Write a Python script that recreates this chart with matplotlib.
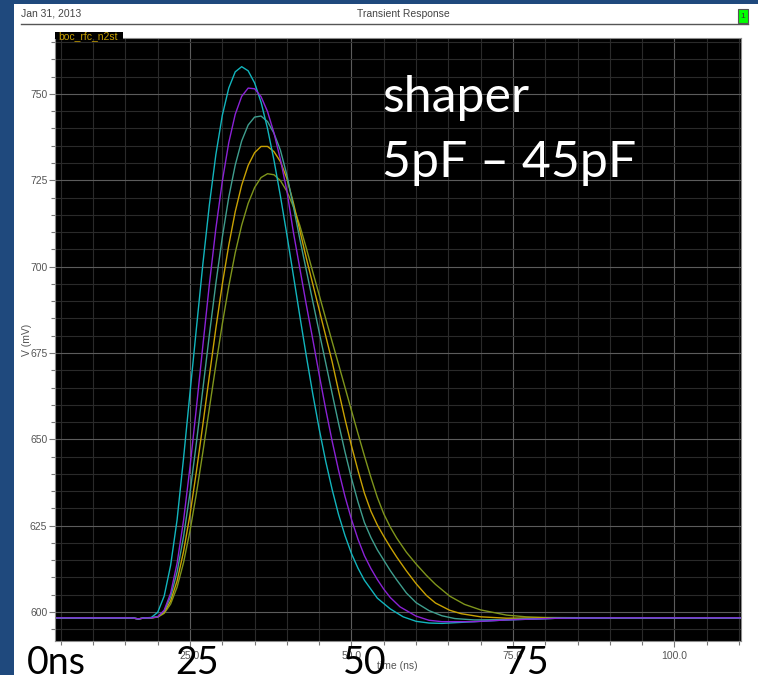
import matplotlib.pyplot as plt
from matplotlib.patches import Rectangle
from matplotlib.lines import Line2D
from matplotlib.ticker import MultipleLocator, FormatStrFormatter

plt.rcParams["font.family"] = ["Liberation Sans", "DejaVu Sans"]

# Shaper outputs: time in ns, voltage in mV
t_cyan = [3, 16, 17, 18, 19, 20, 21, 22, 23, 24, 25, 26, 27, 28, 29, 30, 31, 32, 33, 34, 35,
          36, 37, 38, 39, 40, 41, 42, 43, 44, 45, 46, 47, 48, 49, 50, 51, 52, 54, 56, 58,
          60, 62, 64, 66, 69, 74, 82, 90, 112]
v_cyan = [598.3, 598.3, 598.0, 598.3, 598.4, 599.9, 604.6, 613.5, 626.7, 644.5, 663.5, 682.3,
          700.9, 717.9, 732.4, 743.8, 751.7, 756.4, 757.9, 756.7, 753.2, 747.6, 740.0, 730.8,
          720.4, 709.2, 697.5, 685.7, 674.2, 663.2, 653.0, 643.7, 635.5, 628.2, 622.1, 616.9,
          612.7, 609.2, 604.0, 600.9, 598.6, 597.3, 596.8, 596.7, 596.9, 597.2, 597.7, 598.2,
          598.3, 598.3]

t_purple = [3, 16, 17, 18, 19, 20, 21, 22, 23, 24, 25, 26, 27, 28, 29, 30, 31, 32, 33, 34, 35,
            36, 37, 38, 39, 40, 41, 42, 43, 44, 45, 46, 47, 48, 49, 50, 51, 52, 53, 54, 55,
            56, 57.5, 60, 62, 64, 69, 74, 82, 90, 112]
v_purple = [598.3, 598.3, 598.0, 598.3, 598.3, 598.6, 600.5, 605.4, 614.1, 626.5, 642.0, 659.3,
            677.3, 694.9, 711.0, 724.7, 735.9, 744.1, 749.3, 751.7, 751.5, 749.2, 744.9, 738.7,
            731.0, 721.9, 710.0, 699.5, 689.0, 679.0, 668.7, 658.8, 649.5, 641.0, 633.4, 626.8,
            621.1, 616.3, 612.6, 609.4, 606.6, 604.2, 601.5, 598.8, 597.6, 597.2, 597.2, 597.7,
            598.2, 598.3, 598.3]

t_teal = [3, 16, 17, 18, 19, 20, 21, 22, 23, 24, 25, 26, 27, 28, 29, 30, 31, 32, 33, 34, 35,
          36, 37, 38, 39, 40, 41, 42, 43, 44, 45, 46, 47, 48, 49, 50, 51, 52, 53, 54, 55,
          56, 57, 58.5, 60, 62, 64, 66, 69, 74, 82, 90, 112]
v_teal = [598.3, 598.3, 598.0, 598.3, 598.3, 598.6, 600.3, 604.4, 611.6, 621.8, 634.5, 649.1,
          664.7, 680.3, 695.1, 708.5, 720.1, 729.4, 736.4, 741.0, 743.3, 743.6, 742.0, 738.6,
          733.7, 726.5, 717.5, 708.0, 699.0, 690.0, 681.0, 672.2, 663.3, 654.6, 646.3, 638.7,
          631.9, 625.9, 621.6, 618.0, 615.0, 612.0, 609.3, 605.5, 602.7, 600.4, 598.9, 598.1,
          597.7, 597.8, 598.2, 598.3, 598.3]

t_gold = [3, 16, 17, 18, 19, 20, 21, 22, 23, 24, 25, 26, 27, 28, 29, 30, 31, 32, 33, 34, 35,
          36, 37, 38, 39, 40, 41, 42, 43, 44, 45, 46, 47, 48, 49, 50, 51, 52, 53, 54, 55,
          56, 57, 58.5, 60, 61.6, 63, 65.2, 67, 70, 74, 82, 90, 112]
v_gold = [598.3, 598.3, 598.0, 598.3, 598.3, 598.6, 599.9, 603.2, 609.0, 617.5, 628.2, 640.8,
          654.4, 668.4, 682.1, 694.9, 706.2, 715.9, 723.6, 729.3, 733.0, 734.8, 734.8, 733.3,
          730.4, 725.5, 718.5, 710.5, 702.5, 695.0, 687.5, 680.0, 672.5, 664.0, 655.8, 648.1,
          641.0, 634.4, 629.2, 625.2, 621.9, 618.8, 615.9, 611.9, 608.2, 604.8, 602.6, 600.5,
          599.5, 598.6, 598.2, 598.3, 598.3, 598.3]

t_olive = [3, 16, 17, 18, 19, 20, 21, 22, 23, 24, 25, 26, 27, 28, 29, 30, 31, 32, 33, 34, 35,
           36, 37, 38, 39, 40, 41, 42, 43, 44, 45, 46, 47, 48, 49, 50, 51, 52, 53, 54, 55,
           56, 57, 58.5, 60, 61.6, 63, 65.2, 67.5, 70, 74, 77, 80, 90, 112]
v_olive = [598.3, 598.3, 598.0, 598.3, 598.3, 598.5, 599.6, 602.3, 607.2, 614.3, 623.5, 634.4,
           646.4, 659.0, 671.5, 683.4, 694.3, 704.0, 712.0, 718.3, 722.9, 725.8, 726.9, 726.6,
           724.9, 721.8, 717.4, 711.9, 705.4, 698.5, 691.8, 685.0, 678.3, 671.7, 665.0, 658.3,
           651.7, 645.2, 639.0, 633.2, 628.4, 624.6, 621.4, 617.3, 613.9, 610.6, 608.0, 604.6,
           602.2, 600.6, 599.1, 598.6, 598.4, 598.3, 598.3]

W, H = 758, 675

fig = plt.figure(figsize=(W / 100, H / 100), dpi=100)
fig.patch.set_facecolor("#1f497d")
fig.add_artist(Rectangle((14 / W, 0), (W - 14) / W, (H - 4) / H, transform=fig.transFigure,
                         facecolor="white", edgecolor="none", zorder=-1))

# header strip
fig.text(21 / W, 1 - 14 / H, "Jan 31, 2013", va="center", ha="left", fontsize=7.5, color="#444444")
fig.text(403 / W, 1 - 14 / H, "Transient Response", va="center", ha="center", fontsize=7.5, color="#444444")
fig.add_artist(Line2D([21 / W, 748 / W], [1 - 24 / H, 1 - 24 / H], transform=fig.transFigure,
                      color="#555555", lw=1.0))
fig.add_artist(Rectangle((738 / W, 1 - 22.5 / H), 9.5 / W, 13 / H, transform=fig.transFigure,
                         facecolor="#00ff00", edgecolor="#555555", lw=0.8))
fig.text(743 / W, 1 - 16 / H, "1", va="center", ha="center", fontsize=6, color="#333333")

ax = fig.add_axes([55 / W, 1 - 641 / H, 686 / W, 603 / H])
ax.set_facecolor("black")

ax.plot(t_olive, v_olive, color="#7f951c", lw=1.0)
ax.plot(t_gold, v_gold, color="#c9a203", lw=1.0)
ax.plot(t_teal, v_teal, color="#3f9e8e", lw=1.0)
ax.plot(t_cyan, v_cyan, color="#12b5bd", lw=1.0)
ax.plot(t_purple, v_purple, color="#8b22d6", lw=1.0)

ax.set_xlim(4.1, 110.3)
ax.set_ylim(591.6, 766.2)
ax.xaxis.set_major_locator(MultipleLocator(25))
ax.xaxis.set_minor_locator(MultipleLocator(5))
ax.xaxis.set_major_formatter(FormatStrFormatter("%.1f"))
ax.yaxis.set_major_locator(MultipleLocator(25))
ax.yaxis.set_minor_locator(MultipleLocator(5))
ax.set_axisbelow(True)
ax.grid(which="minor", color="#2a2a2a", lw=0.8)
ax.grid(which="major", color="#5c5c5c", lw=0.8)
ax.tick_params(which="both", direction="out", color="#777777", width=0.8,
               labelsize=7.5, labelcolor="#555555")
ax.tick_params(which="major", length=4, pad=1.5)
ax.tick_params(which="minor", length=3)
ax.tick_params(axis="x", which="major", pad=3)
for s in ax.spines.values():
    s.set_color("#8c8c8c")
    s.set_linewidth(0.8)

# axis titles placed like the scope software does
fig.text(27.5 / W, 1 - 340 / H, "V (mV)", rotation=90, va="center", ha="center",
         fontsize=7.5, color="#555555")
fig.text(397 / W, 1 - 666 / H, "time (ns)", va="center", ha="center", fontsize=7.5, color="#555555")

# trace name tab
fig.add_artist(Rectangle((55 / W, 1 - 38.5 / H), 68 / W, 6.5 / H, transform=fig.transFigure,
                         facecolor="black", edgecolor="none"))
fig.text(58 / W, 1 - 39.5 / H, "boc_rfc_n2st", va="baseline", ha="left", fontsize=7.5, color="#c8a000")

# slide annotations
fig.text(382 / W, 1 - 111.7 / H, "shaper", va="baseline", ha="left", fontsize=36,
         color="white", family="Lato")
fig.text(382 / W, 1 - 176.7 / H, "5pF \u2013 45pF", va="baseline", ha="left", fontsize=36,
         color="white", family="Lato")
for label, x in [("0ns", 26.7), ("25", 175.7), ("50", 343), ("75", 505)]:
    fig.text(x / W, 1 - 673.5 / H, label, va="baseline", ha="left", fontsize=27,
             color="black", family="Lato")

fig.savefig("out.png", dpi=100, facecolor=fig.get_facecolor())
